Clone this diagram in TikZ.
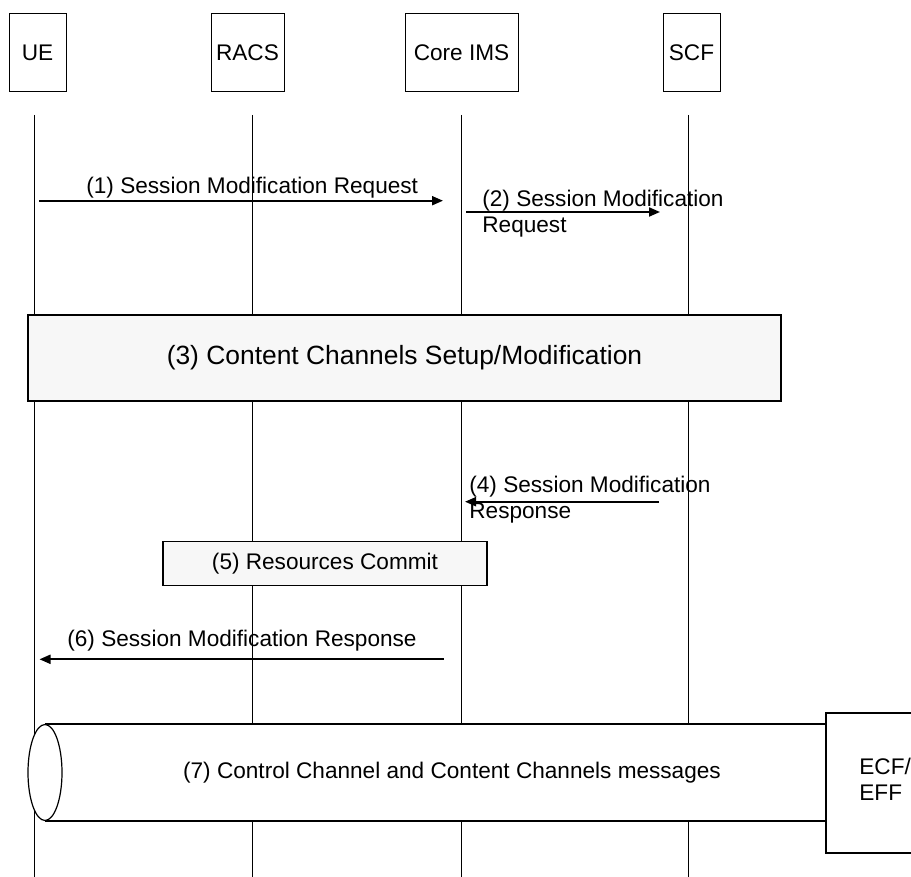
\documentclass[tikz,border=0pt]{standalone}
\usepackage{fontspec}
\setmainfont{Liberation Sans}
\usetikzlibrary{arrows.meta}
\definecolor{boxgray}{RGB}{247,247,247}

\begin{document}
\begin{tikzpicture}
        [x=0.5pt,y=-0.5pt,
         >={Triangle[length=5.5pt,width=4.5pt]},
         every node/.style={inner sep=0pt,font=\fontsize{11.3}{13}\selectfont},
         entity/.style={draw,line width=0.5pt,minimum height=39pt},
         msg/.style={->,line width=1pt}]
        \useasboundingbox (0,0) rectangle (911,877);

        \node[entity,minimum width=28.5pt] (ue) at (37.5,53) {UE};
        \node[entity,minimum width=36.5pt] (racs) at (247.5,53) {RACS};
        \node[entity,minimum width=56.5pt] (ims) at (461.5,53) {Core IMS};
        \node[entity,minimum width=28.5pt] (scf) at (691.5,53) {SCF};

        \foreach \x in {34,252,461,688}
        {\draw[line width=0.5pt] (\x,115) -- (\x,877);}

        \coordinate (m1a) at (39,200.7);
        \coordinate (m1b) at (443,200.7);
        \draw[msg] (m1a) -- (m1b);
        \node[anchor=base west] (t1) at (86,194) {(1) Session Modification Request};

        \coordinate (m2a) at (466,212);
        \coordinate (m2b) at (660,212);
        \draw[msg] (m2a) -- (m2b);
        \node[anchor=base west,align=left] (t2) at (482,233) {(2) Session Modification\\Request};

        \node[draw,line width=0.6pt,fill=boxgray,minimum width=376.5pt,minimum height=43pt,
              font=\fontsize{13.2}{16}\selectfont] (setup) at (404.5,358)
              {(3) Content Channels Setup/Modification};

        \coordinate (m4a) at (659,501.7);
        \coordinate (m4b) at (465,501.7);
        \draw[msg] (m4a) -- (m4b);
        \node[anchor=base west,align=left] (t4) at (469,518) {(4) Session Modification\\Response};

        \node[draw,line width=0.6pt,fill=boxgray,minimum width=162pt,minimum height=21.75pt]
              (commit) at (325,563.5) {(5) Resources Commit};

        \coordinate (m6a) at (443.6,659.3);
        \coordinate (m6b) at (39.5,659.3);
        \draw[msg] (m6a) -- (m6b);
        \node[anchor=base west] (t6) at (67,646.7) {(6) Session Modification Response};

        % channel pipe
        \fill[white] (45,724) rectangle (826,821);
        \draw[line width=0.6pt] (45,724) -- (826,724);
        \draw[line width=0.6pt] (45,821) -- (826,821);
        \draw[line width=0.6pt,fill=white] (45,772.5) ellipse [x radius=8.5pt,y radius=24pt];
        \node (pipe) at (452,773) {(7) Control Channel and Content Channels messages};

        \draw[line width=0.6pt,fill=white] (826,713) rectangle (930,853);
        \node[anchor=base west,align=left] (ecf) at (859,800) {ECF/\\EFF};
      \end{tikzpicture}
\end{document}
